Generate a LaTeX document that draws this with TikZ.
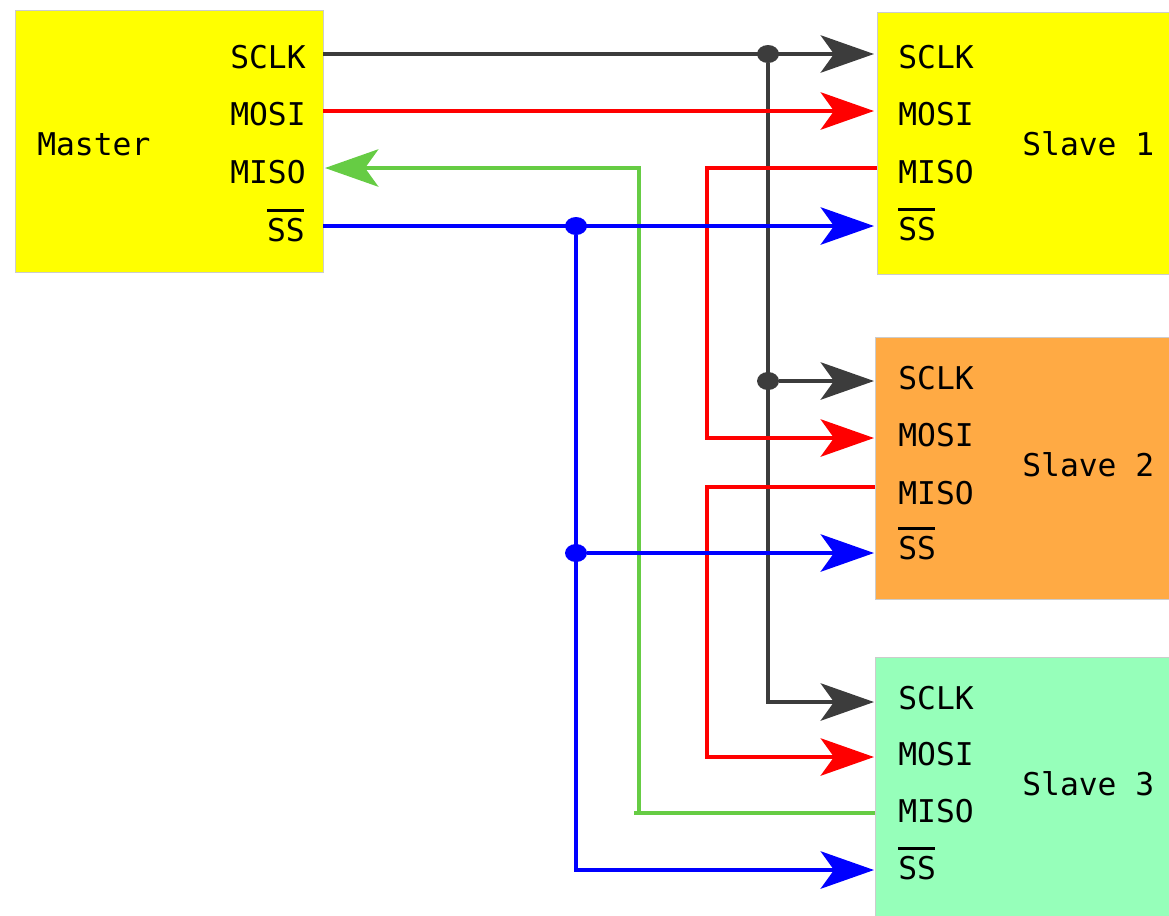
\documentclass[tikz,border=0pt]{standalone}
\usepackage{fontspec}
\usetikzlibrary{arrows.meta,shapes.geometric}
\newfontfamily\pinfont{DejaVu Sans Mono}
\definecolor{boxyellow}{HTML}{FFFF00}
\definecolor{clkgray}{HTML}{3C3C3C}
\definecolor{misogreen}{HTML}{66CC44}
\definecolor{slaveorange}{HTML}{FFAA44}
\definecolor{slavemint}{HTML}{96FFBA}
\def\ssbar{\rlap{\raisebox{22pt}{\rule{27.5pt}{2pt}}}SS}
\tikzset{
	box/.style={draw=black!20, line width=0.4pt, anchor=north west, outer sep=0pt, minimum width=231pt, minimum height=196.5pt},
	pin/.style={anchor=base west, inner sep=0pt, font=\pinfont\fontsize{23.5}{24}\selectfont},
	wire/.style={line width=3pt, line join=miter},
	tipwire/.style={wire, -{Stealth[length=40pt, width=28pt, inset=10pt]}},
	joint/.style={ellipse, fill, inner sep=0pt, minimum width=16.5pt, minimum height=13.5pt}
}

\begin{document}
\begin{tikzpicture}[x=0.75pt, y=-0.75pt]
			%%%%% START %%%%%
			
			\clip (0, 0) rectangle (1169, 915);
			
			\node[box, fill=boxyellow] (master) at (15, 10) {};
			\node[box, fill=boxyellow] (slave1) at (877, 12) {};
			\node[box, fill=slaveorange] (slave2) at (875, 337) {};
			\node[box, fill=slavemint] (slave3) at (875, 657) {};
			
			\node[pin] (mclk) at (230, 68) {SCLK};
			\node[pin] (mmosi) at (230, 125) {MOSI};
			\node[pin] (mmiso) at (230, 183) {MISO};
			\node[pin, anchor=base east] (mss) at (305, 241) {\ssbar};
			\node[pin] (mname) at (37, 155) {Master};
			
			\node[pin] (aclk) at (898, 68) {SCLK};
			\node[pin] (amosi) at (898, 125) {MOSI};
			\node[pin] (amiso) at (898, 183) {MISO};
			\node[pin] (ass) at (898, 240) {\ssbar};
			\node[pin] (aname) at (1022, 155) {Slave 1};
			
			\node[pin] (bclk) at (898, 389) {SCLK};
			\node[pin] (bmosi) at (898, 446) {MOSI};
			\node[pin] (bmiso) at (898, 504) {MISO};
			\node[pin] (bss) at (898, 559) {\ssbar};
			\node[pin] (bname) at (1022, 476) {Slave 2};
			
			\node[pin] (cclk) at (898, 709) {SCLK};
			\node[pin] (cmosi) at (898, 765) {MOSI};
			\node[pin] (cmiso) at (898, 822) {MISO};
			\node[pin] (css) at (898, 879) {\ssbar};
			\node[pin] (cname) at (1022, 795) {Slave 3};
			
			\node[joint, color=blue] (ssa) at (576, 226) {};
			\node[joint, color=blue] (ssb) at (576, 553) {};
			\node[joint, color=clkgray] (clka) at (768, 54) {};
			\node[joint, color=clkgray] (clkb) at (768, 381) {};
			
			\coordinate (ssm) at (323, 226);
			\coordinate (ssat) at (874, 226);
			\coordinate (ssbt) at (874, 553);
			\coordinate (ssct) at (874, 870);
			\coordinate (clkm) at (323, 54);
			\coordinate (clkat) at (874, 54);
			\coordinate (clkbt) at (874, 381);
			\coordinate (clkct) at (874, 702);
			\coordinate (mosim) at (323, 111);
			\coordinate (mosiat) at (874, 111);
			\coordinate (mosibt) at (874, 438);
			\coordinate (mosict) at (874, 757);
			\coordinate (misoa) at (877, 168);
			\coordinate (misob) at (875, 487);
			\coordinate (misoc) at (875, 813);
			\coordinate (misom) at (325, 168);
			\coordinate (misostub) at (634, 813);
			
			\draw[wire, color=misogreen] (misoc) -- (misostub);
			\draw[tipwire, color=misogreen] (639, 813) -- (639, 168) -- (misom);
			
			\draw[tipwire, color=clkgray] (clkm) -- (clkat);
			\draw[tipwire, color=clkgray] (clkb) -- (clkbt);
			\draw[tipwire, color=clkgray] (clka) -- (768, 702) -- (clkct);
			
			\draw[tipwire, color=red] (mosim) -- (mosiat);
			\draw[tipwire, color=red] (misoa) -- (707, 168) -- (707, 438) -- (mosibt);
			\draw[tipwire, color=red] (misob) -- (707, 487) -- (707, 757) -- (mosict);
			
			\draw[tipwire, color=blue] (ssm) -- (ssat);
			\draw[tipwire, color=blue] (ssb) -- (ssbt);
			\draw[tipwire, color=blue] (ssa) -- (576, 870) -- (ssct);
			
			%%%%% END %%%%%
		\end{tikzpicture}
\end{document}
